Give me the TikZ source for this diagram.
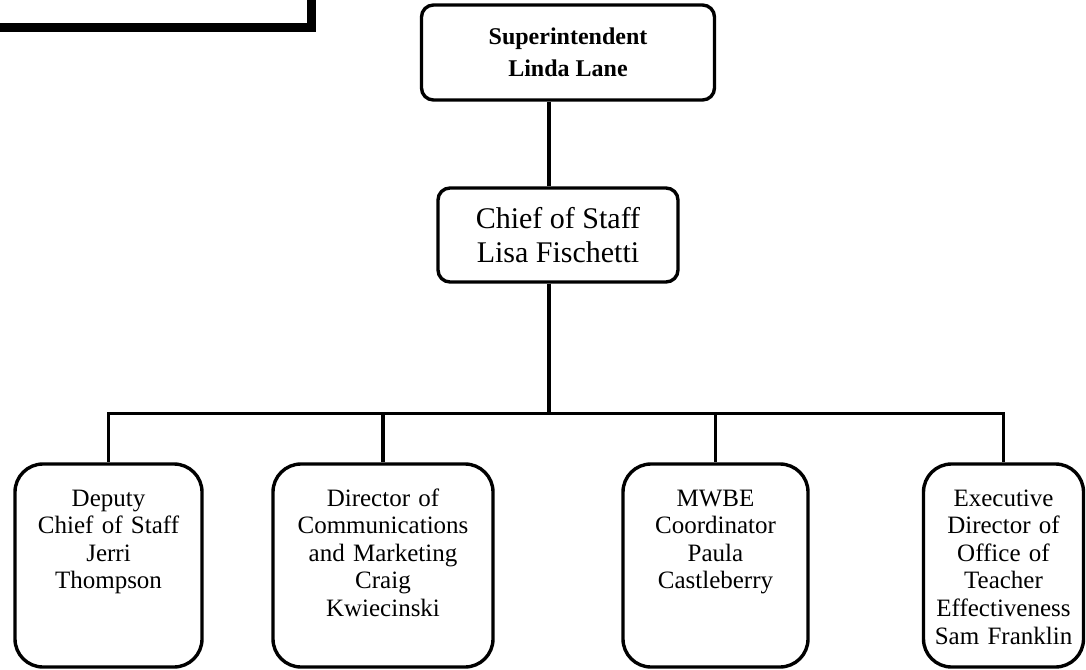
\documentclass[tikz,border=0pt]{standalone}
\usepackage{fontspec}
\setmainfont{Liberation Serif}
\usepackage{tikz}
\usetikzlibrary{trees}

\tikzset{
	topbox/.style={draw, line width=1.7pt, rounded corners=6pt, align=center},
	post/.style={draw, line width=1.7pt, rounded corners=14pt, align=center,
		font=\fontsize{12.5}{13.8}\selectfont, inner xsep=1pt, inner ysep=0pt,
		text height=21pt, text depth=80.5pt},
}

\begin{document}
\begin{tikzpicture}[x=0.5pt, y=-0.5pt,
				edge from parent/.style={draw, line width=1.7pt},
				level 1/.style={level distance=91.25pt,
					edge from parent path={([xshift=-4.5pt]\tikzchildnode.north) -- ([xshift=-4.5pt]\tikzchildnode.north |- \tikzparentnode.south)}},
				level 2/.style={level distance=165.25pt, sibling distance=148.5pt,
					edge from parent path={([xshift=-4.5pt]\tikzparentnode.south) -- ++(0,-65pt) -| (\tikzchildnode.north)}}]
				\useasboundingbox (0,0) rectangle (1086,669);
				\clip (0,0) rectangle (1086,669);
				\draw[line width=4.5pt] (-40,-40) rectangle (311,27.5);
				\node[topbox, font=\bfseries\fontsize{12}{16}\selectfont, minimum width=146.5pt, minimum height=47.5pt] (super) at (568,52.5) {Superintendent\\Linda Lane}
					child[xshift=-5pt] { node[topbox, font=\fontsize{15}{17}\selectfont, minimum width=120pt, minimum height=47pt] (chief) {Chief of Staff\\Lisa Fischetti}
						child[xshift=-2pt] { node[post, text width=91.5pt] (deputy) {Deputy\\Chief of Staff\\Jerri\\Thompson}}
						child[xshift=-13.25pt] { node[post, text width=108pt] (comms) {Director of\\Communications\\and Marketing\\Craig\\Kwiecinski}}
						child[xshift=4.5pt] { node[post, text width=90.5pt] (mwbe) {MWBE\\Coordinator\\Paula\\Castleberry}}
						child { node[post, text width=78pt] (otea) {Executive\\Director of\\Office of\\Teacher\\Effectiveness\\Sam Franklin}}
					};
			\end{tikzpicture}
\end{document}
